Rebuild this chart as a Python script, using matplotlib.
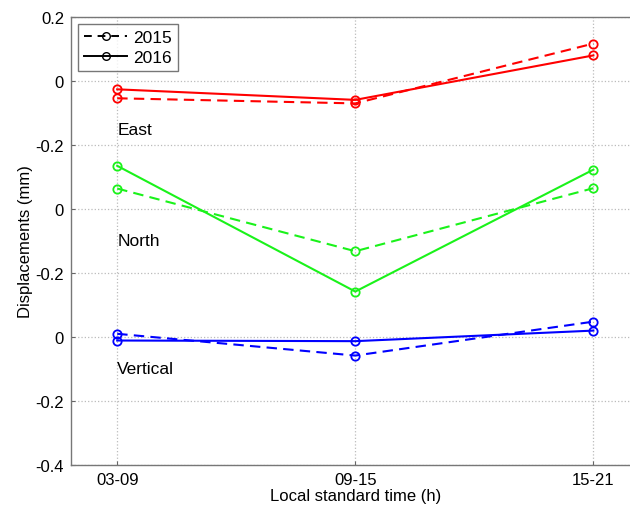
import matplotlib
matplotlib.use("Agg")
import matplotlib.pyplot as plt
import numpy as np
from matplotlib.lines import Line2D

plt.rcParams['font.family'] = ['Liberation Sans', 'DejaVu Sans']

categories = ["03-09", "09-15", "15-21"]
east_2015 = [-0.054, -0.070, 0.117]
east_2016 = [-0.026, -0.059, 0.080]
north_2015 = [0.064, -0.132, 0.065]
north_2016 = [0.135, -0.258, 0.123]
vert_2015 = [0.010, -0.058, 0.048]
vert_2016 = [-0.011, -0.013, 0.020]
offsets = {"East": 0.8, "North": 0.4, "Vertical": 0.0}
ytick_pos = [-0.4, -0.2, 0.0, 0.2, 0.4, 0.6, 0.8, 1.0]
ytick_labels = ["-0.4", "-0.2", "0", "-0.2", "0", "-0.2", "0", "0.2"]

fig = plt.figure(figsize=(6.3, 5.1), dpi=100)
ax = fig.add_axes([71/630, 44/510, 570/630, 448/510])

x = np.arange(1, len(categories) + 1)
green = (0.1, 0.95, 0.1)
series = [
    (east_2015, east_2016, 'red', offsets["East"]),
    (north_2015, north_2016, green, offsets["North"]),
    (vert_2015, vert_2016, 'blue', offsets["Vertical"]),
]
for d15, d16, c, off in series:
    ax.plot(x, np.array(d15) + off, linestyle='--', color=c, lw=1.5,
            marker='o', mfc='none', mec=c, ms=6, mew=1.3, dashes=(5, 3))
    ax.plot(x, np.array(d16) + off, linestyle='-', color=c, lw=1.5,
            marker='o', mfc='none', mec=c, ms=6, mew=1.3)

ax.text(1.0, 0.647, "East", fontsize=12.5, ha='left', va='center')
ax.text(1.0, 0.301, "North", fontsize=12.5, ha='left', va='center')
ax.text(1.0, -0.10, "Vertical", fontsize=12.5, ha='left', va='center')

ax.set_xlim(0.806, 3.2)
ax.set_ylim(-0.4, 1.0)
ax.set_xticks(x)
ax.set_xticklabels(categories)
ax.set_yticks(ytick_pos)
ax.set_yticklabels(ytick_labels)
ax.tick_params(direction='in', length=3, labelsize=12, colors='#666666',
               labelcolor='black', pad=5)
ax.grid(True, linestyle=':', color='#bbbbbb', lw=0.9)
for s in ax.spines.values():
    s.set_color('#777777')
    s.set_linewidth(1.0)

ax.set_xlabel("Local standard time (h)", fontsize=12, labelpad=1)
ax.set_ylabel("Displacements (mm)", fontsize=12, labelpad=2)

handles = [
    Line2D([], [], color='k', linestyle='--', marker='o', mfc='none', ms=5.5, lw=1.4, dashes=(4, 3)),
    Line2D([], [], color='k', linestyle='-', marker='o', mfc='none', ms=5.5, lw=1.4),
]
leg = ax.legend(handles, ["2015", "2016"], loc='upper left', fontsize=12.5,
                fancybox=False, edgecolor='#555555', handlelength=2.5,
                borderaxespad=0.4, borderpad=0.35, labelspacing=0.25, handletextpad=0.35)
leg.get_frame().set_linewidth(1.0)

fig.savefig("out.png", dpi=100)
